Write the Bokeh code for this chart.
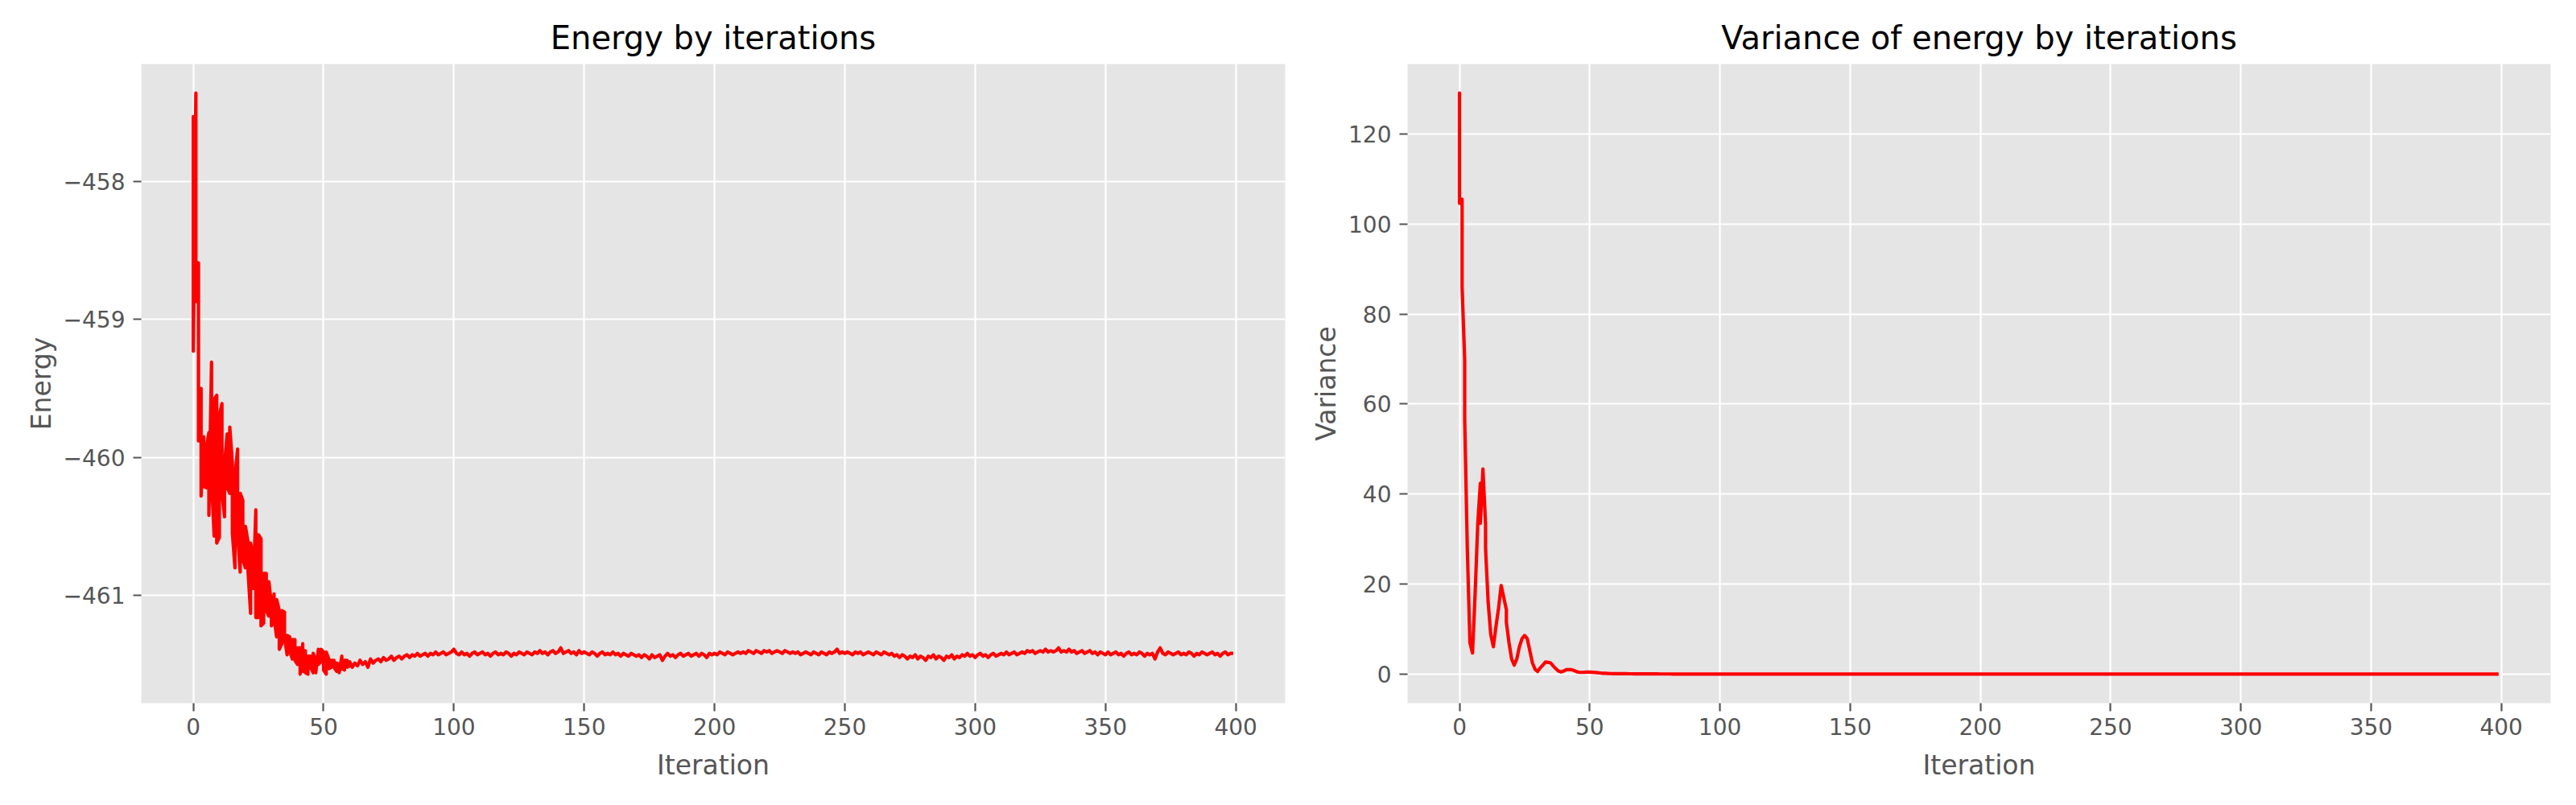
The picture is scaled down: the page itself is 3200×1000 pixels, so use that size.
from bokeh.plotting import figure
from bokeh.layouts import row
from bokeh.models import Range1d, FixedTicker, CustomJSTickFormatter
from bokeh.embed import file_html
from bokeh.resources import INLINE

# energy samples for iterations 0-60 (several per iteration), then one per iteration
energy_early = [
    [-458.40, -457.53, -459.23], [-457.36, -458.87], [-458.59, -459.88], [-459.50, -460.28],
    [-459.85, -460.21], [-460.22, -459.93], [-459.82, -460.42], [-459.31, -460.15],
    [-460.57, -459.58], [-459.55, -460.62], [-460.58, -459.70], [-459.61, -460.25],
    [-460.43, -460.05], [-459.83, -460.22], [-460.26, -459.78], [-460.04, -460.55],
    [-460.80, -460.14], [-459.94, -460.55], [-460.83, -460.26], [-460.31, -460.74],
    [-460.80, -460.50], [-460.61, -460.82], [-461.13, -460.62], [-460.75, -460.95],
    [-460.38, -461.16], [-461.16, -460.56], [-460.59, -461.22], [-461.20, -460.84],
    [-460.84, -461.11], [-461.15, -460.90], [-461.07, -461.22], [-460.99, -461.17],
    [-461.30, -461.03], [-461.11, -461.39], [-461.35, -461.11], [-461.12, -461.30],
    [-461.43, -461.29], [-461.30, -461.40], [-461.46, -461.32], [-461.32, -461.47],
    [-461.50, -461.38], [-461.38, -461.57], [-461.35, -461.55], [-461.40, -461.56],
    [-461.57, -461.44], [-461.44, -461.52], [-461.56, -461.42], [-461.47, -461.56],
    [-461.39, -461.50], [-461.48, -461.39], [-461.41, -461.54], [-461.57, -461.41],
    [-461.46, -461.53], [-461.52, -461.47], [-461.47, -461.52], [-461.55, -461.49],
    [-461.50, -461.56], [-461.44, -461.53], [-461.54, -461.47], [-461.47, -461.52],
    [-461.51, -461.48],
]
energy_late = [
    -461.52, -461.49, -461.51, -461.47, -461.50, -461.48, -461.52, -461.46, -461.49, -461.47,
    -461.46, -461.48, -461.45, -461.47, -461.46, -461.44, -461.47, -461.45, -461.44, -461.46,
    -461.44, -461.43, -461.45, -461.43, -461.44, -461.42, -461.44, -461.43, -461.42, -461.44,
    -461.42, -461.43, -461.41, -461.43, -461.42, -461.41, -461.43, -461.42, -461.41, -461.39,
    -461.42, -461.43, -461.41, -461.43, -461.42, -461.44, -461.42, -461.41, -461.43, -461.42,
    -461.41, -461.43, -461.42, -461.44, -461.42, -461.41, -461.43, -461.42, -461.43, -461.41,
    -461.42, -461.44, -461.42, -461.43, -461.41, -461.42, -461.43, -461.41, -461.42, -461.43,
    -461.41, -461.42, -461.40, -461.42, -461.41, -461.43, -461.41, -461.40, -461.42, -461.41,
    -461.38, -461.42, -461.41, -461.40, -461.42, -461.41, -461.43, -461.40, -461.42, -461.41,
    -461.42, -461.43, -461.41, -461.42, -461.44, -461.42, -461.41, -461.43, -461.42, -461.43,
    -461.41, -461.43, -461.42, -461.44, -461.42, -461.43, -461.44, -461.42, -461.43, -461.44,
    -461.43, -461.45, -461.43, -461.44, -461.46, -461.43, -461.45, -461.44, -461.43, -461.47,
    -461.44, -461.42, -461.44, -461.43, -461.45, -461.43, -461.42, -461.44, -461.43, -461.42,
    -461.44, -461.43, -461.42, -461.44, -461.42, -461.43, -461.45, -461.42, -461.43, -461.42,
    -461.43, -461.41, -461.42, -461.43, -461.41, -461.42, -461.43, -461.42, -461.41, -461.42,
    -461.41, -461.42, -461.40, -461.41, -461.42, -461.40, -461.41, -461.42, -461.40, -461.41,
    -461.40, -461.42, -461.41, -461.40, -461.41, -461.42, -461.40, -461.41, -461.42, -461.41,
    -461.42, -461.41, -461.43, -461.42, -461.41, -461.42, -461.43, -461.41, -461.42, -461.43,
    -461.41, -461.42, -461.43, -461.41, -461.42, -461.41, -461.39, -461.42, -461.41, -461.42,
    -461.41, -461.42, -461.43, -461.41, -461.42, -461.41, -461.43, -461.42, -461.41, -461.42,
    -461.43, -461.41, -461.42, -461.43, -461.41, -461.42, -461.43, -461.42, -461.44, -461.43,
    -461.45, -461.43, -461.44, -461.46, -461.44, -461.45, -461.43, -461.46, -461.44, -461.45,
    -461.47, -461.44, -461.45, -461.43, -461.46, -461.44, -461.45, -461.47, -461.44, -461.45,
    -461.43, -461.46, -461.44, -461.45, -461.43, -461.44, -461.42, -461.44, -461.43, -461.45,
    -461.43, -461.42, -461.44, -461.43, -461.45, -461.43, -461.42, -461.44, -461.43, -461.42,
    -461.43, -461.41, -461.43, -461.42, -461.41, -461.43, -461.42, -461.41, -461.42, -461.40,
    -461.41, -461.40, -461.42, -461.41, -461.40, -461.41, -461.39, -461.41, -461.40, -461.41,
    -461.40, -461.38, -461.41, -461.40, -461.41, -461.39, -461.41, -461.40, -461.42, -461.41,
    -461.40, -461.42, -461.41, -461.40, -461.42, -461.41, -461.43, -461.41, -461.42, -461.43,
    -461.41, -461.43, -461.42, -461.41, -461.43, -461.42, -461.44, -461.42, -461.41, -461.43,
    -461.42, -461.43, -461.41, -461.42, -461.44, -461.42, -461.43, -461.42, -461.46, -461.41,
    -461.38, -461.42, -461.43, -461.41, -461.42, -461.43, -461.42, -461.41, -461.43, -461.42,
    -461.43, -461.41, -461.42, -461.44, -461.42, -461.43, -461.41, -461.42, -461.43, -461.42,
    -461.41, -461.43, -461.42, -461.44, -461.42, -461.41, -461.43, -461.42, -461.42,
]

variance_early = [
    [116.8, 129.1, 104.6], [105.5, 86.0], [69.6, 56.5], [27.9], [7.0], [4.7], [17.9], [33.3],
    [42.4, 33.5], [45.6], [33.3, 27.9], [16.0], [8.8], [6.1], [10.6], [14.7], [19.7], [17.0],
    [14.3, 11.5], [7.0], [3.4], [2.0], [3.4], [6.1], [7.9], [8.6], [7.9], [5.2], [2.5], [1.1],
    [0.6], [1.4], [2.0], [2.7], [2.6], [2.5], [1.8], [1.2], [0.7], [0.5], [0.7], [1.0], [1.0],
    [1.0], [0.8], [0.55], [0.4], [0.4], [0.42], [0.45], [0.45], [0.42], [0.38], [0.32], [0.26],
    [0.2], [0.18], [0.15], [0.13], [0.12], [0.11],
]
variance_late = [
    0.10, 0.10, 0.09, 0.09, 0.08, 0.08, 0.07, 0.07, 0.07, 0.06,
    0.06, 0.06, 0.05, 0.05, 0.05, 0.05, 0.04, 0.04, 0.04, 0.04,
    0.04, 0.03, 0.03, 0.03, 0.03, 0.03, 0.03, 0.03, 0.03, 0.03,
    0.03, 0.03, 0.03, 0.02, 0.02, 0.02, 0.02, 0.02, 0.02, 0.02,
    0.02, 0.02, 0.02, 0.02, 0.02, 0.02, 0.02, 0.02, 0.02, 0.02,
    0.02, 0.02, 0.02, 0.02, 0.02, 0.02, 0.02, 0.02, 0.02, 0.02,
    0.02, 0.02, 0.02, 0.02, 0.02, 0.02, 0.01, 0.01, 0.01, 0.01,
    0.01, 0.01, 0.01, 0.01, 0.01, 0.01, 0.01, 0.01, 0.01, 0.01,
    0.01, 0.01, 0.01, 0.01, 0.01, 0.01, 0.01, 0.01, 0.01, 0.01,
    0.01, 0.01, 0.01, 0.01, 0.01, 0.01, 0.01, 0.01, 0.01, 0.01,
    0.01, 0.01, 0.01, 0.01, 0.01, 0.01, 0.01, 0.01, 0.01, 0.01,
    0.01, 0.01, 0.01, 0.01, 0.01, 0.01, 0.01, 0.01, 0.01, 0.01,
    0.01, 0.01, 0.01, 0.01, 0.01, 0.01, 0.01, 0.01, 0.01, 0.01,
    0.01, 0.01, 0.01, 0.01, 0.01, 0.01, 0.01, 0.01, 0.01, 0.01,
    0.01, 0.01, 0.01, 0.01, 0.01, 0.01, 0.01, 0.01, 0.01, 0.01,
    0.01, 0.01, 0.01, 0.01, 0.01, 0.01, 0.01, 0.01, 0.01, 0.01,
    0.01, 0.01, 0.01, 0.01, 0.01, 0.01, 0.01, 0.01, 0.01, 0.01,
    0.01, 0.01, 0.01, 0.01, 0.01, 0.01, 0.01, 0.01, 0.01, 0.01,
    0.01, 0.01, 0.01, 0.01, 0.01, 0.01, 0.01, 0.01, 0.01, 0.01,
    0.01, 0.01, 0.01, 0.01, 0.01, 0.01, 0.01, 0.01, 0.01, 0.01,
    0.01, 0.01, 0.01, 0.01, 0.01, 0.01, 0.01, 0.01, 0.01, 0.01,
    0.01, 0.01, 0.01, 0.01, 0.01, 0.01, 0.01, 0.01, 0.01, 0.01,
    0.01, 0.01, 0.01, 0.01, 0.01, 0.01, 0.01, 0.01, 0.01, 0.01,
    0.01, 0.01, 0.01, 0.01, 0.01, 0.01, 0.01, 0.01, 0.01, 0.01,
    0.01, 0.01, 0.01, 0.01, 0.01, 0.01, 0.01, 0.01, 0.01, 0.01,
    0.01, 0.01, 0.01, 0.01, 0.01, 0.01, 0.01, 0.01, 0.01, 0.01,
    0.01, 0.01, 0.01, 0.01, 0.01, 0.01, 0.01, 0.01, 0.01, 0.01,
    0.01, 0.01, 0.01, 0.01, 0.01, 0.01, 0.01, 0.01, 0.01, 0.01,
    0.01, 0.01, 0.01, 0.01, 0.01, 0.01, 0.01, 0.01, 0.01, 0.01,
    0.01, 0.01, 0.01, 0.01, 0.01, 0.01, 0.01, 0.01, 0.01, 0.01,
    0.01, 0.01, 0.01, 0.01, 0.01, 0.01, 0.01, 0.01, 0.01, 0.01,
    0.01, 0.01, 0.01, 0.01, 0.01, 0.01, 0.01, 0.01, 0.01, 0.01,
    0.01, 0.01, 0.01, 0.01, 0.01, 0.01, 0.01, 0.01, 0.01, 0.01,
    0.01, 0.01, 0.01, 0.01, 0.01, 0.01, 0.01, 0.01, 0.01,
]

x_ticks = [0, 50, 100, 150, 200, 250, 300, 350, 400]
energy_ticks = [-461, -460, -459, -458]
variance_ticks = [0, 20, 40, 60, 80, 100, 120]

FONT = "DejaVu Sans"
GREY = "#555555"


def flatten(early, late):
    xs, ys = [], []
    for i, vals in enumerate(early):
        for v in vals:
            xs.append(i)
            ys.append(v)
    for j, v in enumerate(late):
        xs.append(len(early) + j)
        ys.append(v)
    return xs, ys


def make_panel(title, ylabel, xs, ys, yticks, width, left, right):
    px = 0.05 * (max(xs) - min(xs))
    py = 0.05 * (max(ys) - min(ys))
    p = figure(width=width, height=1000, output_backend="svg", toolbar_location=None,
               x_range=Range1d(min(xs) - px, max(xs) + px),
               y_range=Range1d(min(ys) - py, max(ys) + py),
               min_border_left=left, min_border_right=right,
               min_border_top=79, min_border_bottom=127,
               background_fill_color="#E5E5E5", border_fill_color="white",
               outline_line_color=None)
    p.title.text = title
    p.title.align = "center"
    p.title.text_font = FONT
    p.title.text_font_size = "40px"
    p.title.text_font_style = "normal"
    p.title.text_color = "black"
    p.title.standoff = 20

    p.xaxis.ticker = FixedTicker(ticks=x_ticks)
    p.yaxis.ticker = FixedTicker(ticks=yticks)
    p.yaxis.formatter = CustomJSTickFormatter(code="return String(tick).replace('-', '\\u2212');")
    p.xaxis.axis_label = "Iteration"
    p.yaxis.axis_label = ylabel
    for ax in (p.xaxis[0], p.yaxis[0]):
        ax.axis_line_color = None
        ax.major_tick_line_color = GREY
        ax.major_tick_line_width = 2.2
        ax.major_tick_in = 0
        ax.major_tick_out = 10
        ax.minor_tick_line_color = None
        ax.major_label_text_font = FONT
        ax.major_label_text_font_size = "28px"
        ax.major_label_text_color = GREY
        ax.axis_label_text_font = FONT
        ax.axis_label_text_font_size = "33px"
        ax.axis_label_text_color = GREY
        ax.axis_label_text_font_style = "normal"
    p.xaxis.major_label_standoff = 8
    p.yaxis.major_label_standoff = 10
    p.xaxis.axis_label_standoff = 15
    p.yaxis.axis_label_standoff = 5

    p.grid.grid_line_color = "white"
    p.grid.grid_line_width = 2.2

    p.line(xs, ys, line_color="#FF0000", line_width=4.2, line_join="round")
    return p


ex, ey = flatten(energy_early, energy_late)
vx, vy = flatten(variance_early, variance_late)

p1 = make_panel("Energy by iterations", "Energy", ex, ey, energy_ticks, 1608, 175, 12)
p2 = make_panel("Variance of energy by iterations", "Variance", vx, vy, variance_ticks, 1592, 140, 32)

layout = row(p1, p2)
open("out.html", "w").write(file_html(layout, INLINE))
